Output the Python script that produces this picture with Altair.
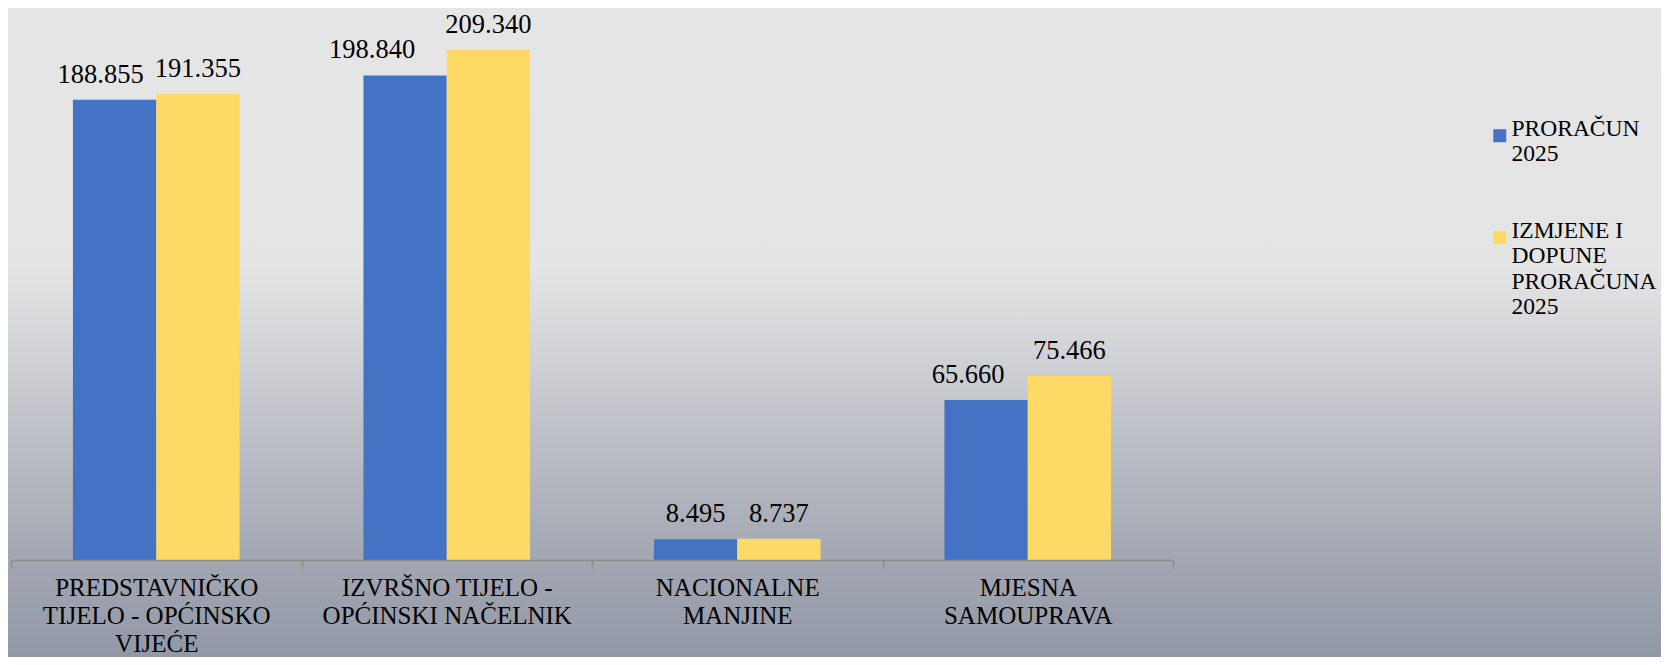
import altair as alt
import pandas as pd

categories = [
    "PREDSTAVNIČKO\nTIJELO - OPĆINSKO\nVIJEĆE",
    "IZVRŠNO TIJELO -\nOPĆINSKI NAČELNIK",
    "NACIONALNE\nMANJINE",
    "MJESNA\nSAMOUPRAVA",
]
series = ["PRORAČUN\n2025", "IZMJENE I\nDOPUNE\nPRORAČUNA\n2025"]
proracun_2025 = [188855, 198840, 8495, 65660]
izmjene_2025 = [191355, 209340, 8737, 75466]
colors = ["#4472C4", "#FFD966"]

# horizontal nudge (px) of the value labels of the first series, as placed in the original
label_nudge_first = [-14, -33, 0, -18]

rows = []
for i, (c, v1, v2) in enumerate(zip(categories, proracun_2025, izmjene_2025)):
    rows.append({"key": 2 * i, "cat": c, "series": series[0], "value": v1})
    rows.append({"key": 2 * i + 1, "cat": c, "series": series[1], "value": v2})
df = pd.DataFrame(rows)

FONT = "Liberation Serif, Times New Roman, serif"
W, H = 1162, 552

bg = alt.Chart(pd.DataFrame({"a": [0]})).mark_rect(
    color=alt.Gradient(
        gradient="linear", x1=0, y1=0, x2=0, y2=1,
        stops=[
            alt.GradientStop(offset=0.0, color="#e5e5e5"),
            alt.GradientStop(offset=0.40, color="#e4e4e4"),
            alt.GradientStop(offset=0.50, color="#d6d7da"),
            alt.GradientStop(offset=0.60, color="#c6c8ce"),
            alt.GradientStop(offset=0.71, color="#b6b9c1"),
            alt.GradientStop(offset=0.85, color="#a3a7b2"),
            alt.GradientStop(offset=1.0, color="#9198a6"),
        ],
    ),
    clip=False,
).encode(
    x=alt.value(-3), x2=alt.value(W + 488),
    y=alt.value(0), y2=alt.value(H + 97),
)

x_enc = alt.X(
    "cat:N", sort=categories, title=None,
    scale=alt.Scale(paddingInner=0, paddingOuter=0),
    axis=alt.Axis(
        labelAngle=0, labelFont=FONT, labelFontSize=25, labelColor="#000000",
        labelLineHeight=28, labelExpr="split(datum.label, '\\n')",
        labelPadding=7, labelLimit=400, labelBaseline="top",
        domainColor="#8c8c8c", domainWidth=1.5, tickColor="#8c8c8c",
        tickWidth=1.5, tickSize=8, tickBand="extent", zindex=1,
    ),
)
xo_enc = alt.XOffset(
    "series:N", sort=series,
    scale=alt.Scale(paddingInner=0, paddingOuter=0.7435),
)
y_enc = alt.Y(
    "value:Q", title=None, axis=None,
    scale=alt.Scale(domain=[0, 226500], nice=False),
)

bars = alt.Chart(df).mark_bar().encode(
    x=x_enc, xOffset=xo_enc, y=y_enc,
    color=alt.Color(
        "series:N", sort=series,
        scale=alt.Scale(domain=series, range=colors),
        legend=alt.Legend(
            title=None, orient="none", legendX=1477, legendY=116,
            symbolType="square", symbolSize=169, symbolStrokeWidth=0,
            labelFont=FONT, labelFontSize=23.5, labelColor="#000000",
            labelExpr="split(datum.label, '\\n')",
            labelBaseline="alphabetic", labelOffset=0, rowPadding=52,
            labelLimit=300, padding=0,
        ),
    ),
)

# group label keys by nudge
nudges = {}
for i in range(len(categories)):
    nudges.setdefault(label_nudge_first[i], []).append(2 * i)
    nudges.setdefault(0, []).append(2 * i + 1)

label_layers = []
for dx, keys in nudges.items():
    label_layers.append(
        alt.Chart(df).transform_filter(
            alt.FieldOneOfPredicate(field="key", oneOf=keys)
        ).transform_calculate(
            txt="replace(format(datum.value, ','), ',', '.')"
        ).mark_text(
            font=FONT, fontSize=26.5, color="#000000", baseline="alphabetic",
            dy=-17, dx=dx,
        ).encode(x=alt.X("cat:N", sort=categories), xOffset=xo_enc, y=y_enc, text="txt:N")
    )

chart = alt.layer(bg, bars, *label_layers).properties(
    width=W, height=H,
    autosize=alt.AutoSizeParams(type="none"),
    padding={"left": 3, "top": 0, "right": 488, "bottom": 97},
).configure_view(stroke=None).configure(background="#e5e5e5")

chart.save("out.html", embed_options={"renderer": "svg", "actions": False})
